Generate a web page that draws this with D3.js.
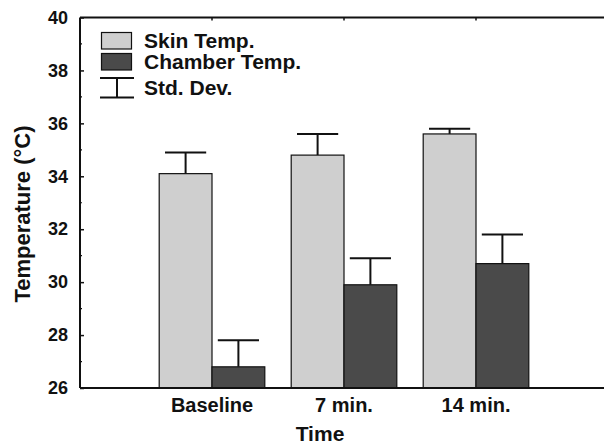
<!DOCTYPE html>
<html>
<head>
<meta charset="utf-8">
<script src="https://cdn.jsdelivr.net/npm/d3@7"></script>
<style>
  body { margin: 0; background: #fff; }
  text { font-family: "Liberation Sans", Arial, sans-serif; fill: #111; }
</style>
</head>
<body>
<div id="vizholder"></div>
<script>
// data
var categories = ["Baseline", "7 min.", "14 min."];
var seriesNames = ["Skin Temp.", "Chamber Temp."];
var skinTemp = [34.1, 34.8, 35.6];
var skinSD = [0.8, 0.8, 0.2];
var chamberTemp = [26.8, 29.9, 30.7];
var chamberSD = [1.0, 1.0, 1.1];
var yTicks = [26, 28, 30, 32, 34, 36, 38, 40];
var yMinorTicks = [27, 29, 31, 33, 35, 37, 39];

var colors = { "Skin Temp.": "#cfcfcf", "Chamber Temp.": "#4a4a4a" };

var width = 604, height = 446;
var margin = { left: 80, right: -4, top: 17.5, bottom: 58 };

var svg = d3.select("#vizholder").append("svg")
    .attr("width", width)
    .attr("height", height);

var y = d3.scaleLinear()
    .domain([26, 40])
    .range([height - margin.bottom, margin.top]);

var x = d3.scaleBand()
    .domain(categories)
    .range([margin.left, width - margin.right])
    .paddingInner(0.2)
    .paddingOuter(0.6);

var xs = d3.scaleBand()
    .domain(seriesNames)
    .range([0, x.bandwidth()]);

var rows = [];
categories.forEach(function(c, i) {
  rows.push({ cat: c, series: "Skin Temp.", value: skinTemp[i], sd: skinSD[i] });
  rows.push({ cat: c, series: "Chamber Temp.", value: chamberTemp[i], sd: chamberSD[i] });
});

// error bars (drawn under bars so the stem starts at the bar top)
var capW = xs.bandwidth() * 0.78;
var eb = svg.append("g").attr("stroke", "#111").attr("stroke-width", 2);
rows.forEach(function(d) {
  var cx = x(d.cat) + xs(d.series) + xs.bandwidth() / 2;
  eb.append("line")
    .attr("x1", cx).attr("x2", cx)
    .attr("y1", y(d.value)).attr("y2", y(d.value + d.sd));
  eb.append("line")
    .attr("x1", cx - capW / 2).attr("x2", cx + capW / 2)
    .attr("y1", y(d.value + d.sd)).attr("y2", y(d.value + d.sd));
});

// bars
svg.append("g").selectAll("rect")
  .data(rows)
  .enter().append("rect")
    .attr("x", function(d) { return x(d.cat) + xs(d.series); })
    .attr("y", function(d) { return y(d.value); })
    .attr("width", xs.bandwidth())
    .attr("height", function(d) { return y(26) - y(d.value); })
    .attr("fill", function(d) { return colors[d.series]; })
    .attr("stroke", "#111")
    .attr("stroke-width", 1.2);

// frame: left, bottom, top
var x0 = margin.left, x1 = width - margin.right;
var frame = svg.append("g").attr("stroke", "#111").attr("stroke-width", 2).attr("fill", "none");
frame.append("line").attr("x1", x0).attr("x2", x0).attr("y1", y(40)).attr("y2", y(26));
frame.append("line").attr("x1", x0).attr("x2", x1).attr("y1", y(26)).attr("y2", y(26));
frame.append("line").attr("x1", x0).attr("x2", x1).attr("y1", y(40)).attr("y2", y(40));

// y axis ticks (inward)
var yAxis = d3.axisLeft(y).tickValues(yTicks).tickSize(-4).tickPadding(12).tickFormat(d3.format("d"));
var gy = svg.append("g")
    .attr("transform", "translate(" + x0 + ",0)")
    .call(yAxis);
gy.select(".domain").remove();
gy.selectAll("line").attr("stroke", "#111").attr("stroke-width", 1.5);
gy.selectAll("text")
    .style("font-size", "18px")
    .style("font-weight", "bold")
    .attr("fill", "#111");

svg.append("g").selectAll("line")
  .data(yMinorTicks)
  .enter().append("line")
    .attr("x1", x0).attr("x2", x0 + 2)
    .attr("y1", function(d) { return y(d); })
    .attr("y2", function(d) { return y(d); })
    .attr("stroke", "#111").attr("stroke-width", 1.2);

// x axis labels
var xAxis = d3.axisBottom(x).tickSize(0).tickPadding(10);
var gx = svg.append("g")
    .attr("transform", "translate(0," + y(26) + ")")
    .call(xAxis);
gx.select(".domain").remove();
gx.selectAll("text")
    .style("font-size", "20px")
    .style("font-weight", "bold")
    .attr("fill", "#111");

// small ticks on top border
svg.append("g").selectAll("line")
  .data(categories)
  .enter().append("line")
    .attr("x1", function(d) { return x(d) + x.bandwidth() / 2; })
    .attr("x2", function(d) { return x(d) + x.bandwidth() / 2; })
    .attr("y1", y(40)).attr("y2", y(40) + 3)
    .attr("stroke", "#111").attr("stroke-width", 1.5);

// axis titles
svg.append("text")
    .attr("x", 320).attr("y", 441)
    .attr("text-anchor", "middle")
    .style("font-size", "21px")
    .style("font-weight", "bold")
    .text("Time");

svg.append("text")
    .attr("transform", "translate(30,214) rotate(-90)")
    .attr("text-anchor", "middle")
    .style("font-size", "22px")
    .style("font-weight", "bold")
    .text("Temperature (\u00B0C)");

// legend
var legend = svg.append("g");
var legendRows = [
  { name: "Skin Temp.", y: 32.5 },
  { name: "Chamber Temp.", y: 53.5 }
];
legendRows.forEach(function(r) {
  legend.append("rect")
    .attr("x", 101.5).attr("y", r.y)
    .attr("width", 30).attr("height", 16.5)
    .attr("fill", colors[r.name])
    .attr("stroke", "#111").attr("stroke-width", 1.2);
  legend.append("text")
    .attr("x", 144).attr("y", r.y + 15.5)
    .style("font-size", "21px")
    .style("font-weight", "bold")
    .text(r.name);
});
var sdg = legend.append("g").attr("stroke", "#111").attr("stroke-width", 2);
sdg.append("line").attr("x1", 100).attr("x2", 134).attr("y1", 78).attr("y2", 78);
sdg.append("line").attr("x1", 117).attr("x2", 117).attr("y1", 78).attr("y2", 97.5);
sdg.append("line").attr("x1", 100).attr("x2", 134).attr("y1", 97.5).attr("y2", 97.5);
legend.append("text")
    .attr("x", 144).attr("y", 95)
    .style("font-size", "21px")
    .style("font-weight", "bold")
    .text("Std. Dev.");
</script>
</body>
</html>
